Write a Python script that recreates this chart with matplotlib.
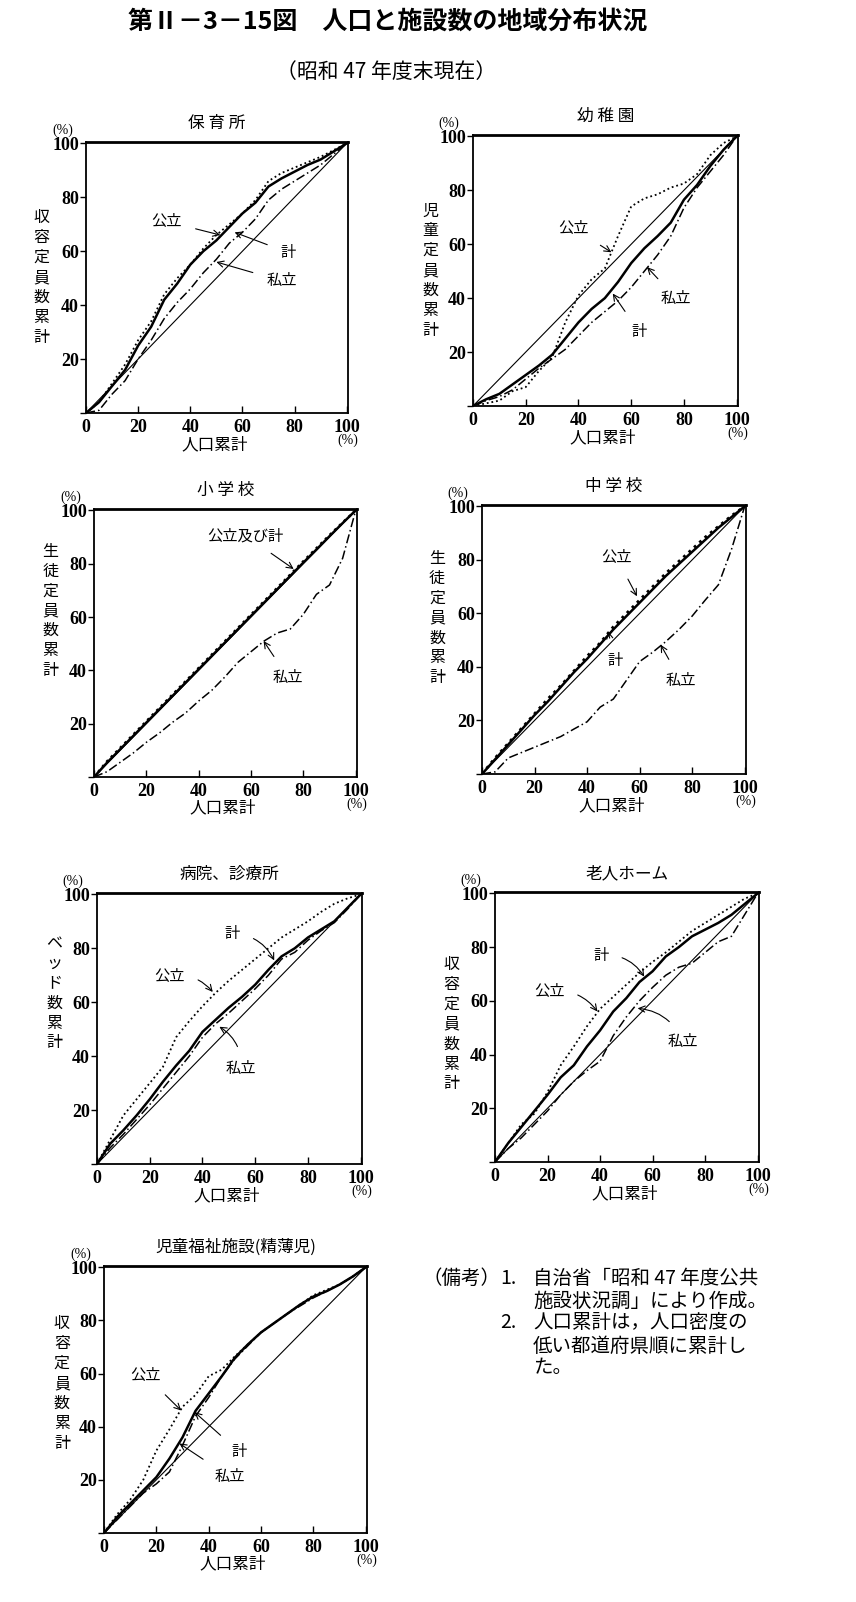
import matplotlib.pyplot as plt

plt.rcParams['font.family'] = ['Noto Sans CJK JP', 'DejaVu Sans']

W, H = 856, 1602

# cumulative population share (%)
pct = [0, 5, 10, 15, 20, 25, 30, 35, 40, 45, 50, 55, 60, 65, 70, 75, 80, 85, 90, 95, 100]
tick_vals = [0, 20, 40, 60, 80, 100]

# 保育所
hoiku_kou = [0, 4, 11, 18, 27, 34, 44, 50, 55, 61, 66, 70, 74, 79, 86, 89, 91, 93, 95, 97.5, 100]
hoiku_kei = [0, 4, 10, 16, 25, 32, 42, 48, 55, 60, 64, 69, 74, 78, 84, 87, 89.5, 92, 94, 97, 100]
hoiku_shi = [0, 1, 7, 12, 20, 27, 35, 41, 46, 52, 57, 63, 67, 72, 79, 83, 86, 89, 92, 96, 100]

# 幼稚園
youchi_kou = [0, 1, 2, 5.5, 7, 13, 18, 31, 41, 47, 51, 63, 74, 77, 78.5, 81, 82.5, 86, 93, 97.5, 100]
youchi_kei = [0, 2.5, 4.5, 8, 11.5, 15, 19, 25, 31, 36, 40, 46, 53, 58.5, 63, 68, 76.5, 82, 89, 95, 100]
youchi_shi = [0, 2, 3.5, 6, 10, 14, 17.5, 21, 26, 31, 35, 39, 44, 50, 56, 63, 73.5, 81, 87, 93, 100]

# 小学校
shou_kou = [0, 5.9, 10.9, 15.9, 20.9, 25.9, 30.9, 35.9, 40.9, 45.9, 50.9, 55.9, 60.9, 65.9, 70.9, 75.9, 80.9, 85.8, 90.7, 95.4, 100]
shou_kei = [0, 5.4, 10.4, 15.4, 20.4, 25.4, 30.4, 35.4, 40.4, 45.4, 50.4, 55.4, 60.4, 65.4, 70.4, 75.4, 80.4, 85.3, 90.3, 95.2, 100]
shou_shi = [0, 2, 5.5, 9, 13, 16.5, 20.5, 24, 28.5, 32.5, 37.5, 43, 47, 51, 54, 55.5, 61, 68.5, 72, 82, 100]

# 中学校
chuu_kou = [0, 6, 11.5, 17, 22.5, 28, 33, 38.5, 44, 49, 55, 60, 65, 70, 75, 79.5, 84, 88.5, 92.5, 96.5, 100]
chuu_kei = [0, 5.5, 11, 16.5, 22, 27, 32.5, 38, 43, 48.5, 54, 59, 64, 69, 74, 78.5, 83, 87.5, 92, 96, 100]
chuu_shi = [0, 0.8, 6, 8, 10, 12, 14, 16.8, 19.5, 25, 28, 35, 42, 45.5, 49.5, 54, 59, 65, 70.7, 84, 100]

# 病院、診療所
byouin_kou = [0, 9, 18, 24, 30, 36, 47, 53, 58.5, 63.5, 68, 72, 76, 80, 84, 87, 90, 93.5, 96.5, 98.5, 100]
byouin_kei = [0, 7.5, 12.5, 18, 24, 30.5, 36.5, 42, 49, 53.5, 58, 62, 66.5, 72, 77, 80, 84, 87, 90, 95, 100]
byouin_shi = [0, 6, 11, 16.5, 22, 28, 34, 40, 47, 52, 56, 60.5, 65, 70, 76, 78.5, 83, 86.5, 89.5, 94.5, 100]

# 老人ホーム
roujin_kou = [0, 7, 14, 18, 26, 36, 43, 50.5, 57, 61.5, 66, 70.5, 74.5, 78, 82, 86, 89, 92, 95, 98, 100]
roujin_kei = [0, 7, 13, 19, 25, 31.5, 36, 43, 49, 56, 61, 67, 71, 76.5, 80, 84, 86.5, 89, 92, 96, 100]
roujin_shi = [0, 5, 9, 14, 19, 25, 30, 34, 37.5, 47, 54, 60, 65, 69.5, 72.5, 74, 78, 82, 84, 92, 100]

# 児童福祉施設(精薄児)
jidou_kou = [0, 7, 12.5, 20, 31, 39, 47.5, 52, 59, 61.5, 66.5, 71, 75.5, 79, 82.5, 86, 89.5, 91.5, 93.5, 96.5, 100]
jidou_kei = [0, 6, 11, 16, 21, 28, 36, 46, 52.5, 59, 66, 71, 75.5, 79, 82.5, 86, 89, 91, 93.5, 96.5, 100]
jidou_shi = [0, 5, 10, 15, 18.5, 23, 33, 44, 51, 59, 65.5, 70.5, 75.5, 79, 82.5, 85.5, 88.5, 91, 93.5, 96.5, 100]

# layout: box = (left, top, right, bottom) in pixels; ann = (text, text xy, arrow tip xy, curvature)
panels = [
    dict(title='保 育 所', ylabel='収容定員数累計', box=(86, 142, 348, 413),
         kou=hoiku_kou, kei=hoiku_kei, shi=hoiku_shi, ylab_pos=(-0.17, 0.5),
         ann=[('公立', (31, 71), (51.5, 66), 0), ('計', (77.5, 59.5), (57, 67), 0),
              ('私立', (75, 49), (50, 56), 0)]),
    dict(title='幼 稚 園', ylabel='児童定員数累計', box=(473, 135, 738, 406),
         kou=youchi_kou, kei=youchi_kei, shi=youchi_shi, ylab_pos=(-0.16, 0.5),
         ann=[('公立', (38, 66), (52.5, 57), 0), ('私立', (77, 40), (66, 51.5), 0),
              ('計', (63, 27.5), (53, 41.7), 0)]),
    dict(title='小 学 校', ylabel='生徒定員数累計', box=(94, 509, 357, 777),
         kou=shou_kou, kei=shou_kei, shi=shou_shi, ylab_pos=(-0.165, 0.62), kou_lw=1.8,
         ann=[('公立及び計', (58, 90.5), (76.3, 78), 0), ('私立', (74, 37.5), (64.8, 51), 0)]),
    dict(title='中 学 校', ylabel='生徒定員数累計', box=(482, 505, 746, 774),
         kou=chuu_kou, kei=chuu_kei, shi=chuu_shi, ylab_pos=(-0.17, 0.58), kou_lw=2.0,
         ann=[('公立', (51.3, 80.7), (59, 66.4), 0), ('計', (50.6, 42.5), (48, 53.3), 0),
              ('私立', (75.6, 35), (68, 48.3), 0)]),
    dict(title='病院、診療所', ylabel='ベッド数累計', box=(97, 893, 362, 1164),
         kou=byouin_kou, kei=byouin_kei, shi=byouin_shi, ylab_pos=(-0.16, 0.63),
         ann=[('計', (51.4, 85.4), (67.2, 75.5), -0.3), ('公立', (27.5, 69.4), (43.9, 63.8), -0.3),
              ('私立', (54.6, 35.4), (46.4, 50.9), 0.3)]),
    dict(title='老人ホーム', ylabel='収容定員数累計', box=(495, 892, 759, 1162),
         kou=roujin_kou, kei=roujin_kei, shi=roujin_shi, ylab_pos=(-0.165, 0.51),
         ann=[('計', (40.3, 77), (56.8, 69), -0.3), ('公立', (20.6, 63.4), (39, 56), -0.3),
              ('私立', (71.4, 44.9), (54.3, 57.2), 0.3)]),
    dict(title='児童福祉施設(精薄児)', ylabel='収容定員数累計', box=(104, 1266, 367, 1533),
         kou=jidou_kou, kei=jidou_kei, shi=jidou_shi, ylab_pos=(-0.16, 0.56),
         ann=[('公立', (16, 59.2), (29.5, 46.1), 0), ('計', (51.7, 30.5), (34.6, 45.5), 0),
              ('私立', (47.9, 21.2), (28.8, 33.7), 0)]),
]

num_font = dict(family=['Liberation Serif'], fontweight='bold', fontsize=13)

fig = plt.figure(figsize=(W / 100, H / 100), dpi=100)


def draw_panel(p):
    l, t, r, b = p['box']
    ax = fig.add_axes([l / W, 1 - b / H, (r - l) / W, (b - t) / H])
    ax.plot([0, 100], [0, 100], color='black', lw=0.8)
    ax.plot(pct, p['kou'], color='black', lw=p.get('kou_lw', 1.3), ls=(0, (1, 1.6)))
    ax.plot(pct, p['kei'], color='black', lw=1.8)
    ax.plot(pct, p['shi'], color='black', lw=1.1, ls=(0, (6, 2, 1, 2)))
    ax.set_xlim(0, 100.5)
    ax.set_ylim(0, 100.5)
    for s in ax.spines.values():
        s.set_linewidth(1.3)
    ax.spines['top'].set_linewidth(2.0)
    ax.set_xticks(tick_vals)
    ax.set_xticklabels([str(v) for v in tick_vals], **num_font)
    ax.set_yticks(tick_vals)
    ax.set_yticklabels([''] + [str(v) for v in tick_vals[1:]], **num_font)
    ax.tick_params(axis='x', direction='in', length=5, width=1, pad=4)
    ax.tick_params(axis='y', direction='out', length=4, width=1, pad=1)

    ax.set_title(p['title'], fontsize=12, pad=10)
    ax.text(p['ylab_pos'][0], p['ylab_pos'][1], '\n'.join(p['ylabel']), transform=ax.transAxes,
            ha='center', va='center', fontsize=11.5, linespacing=1.22)
    ax.text(-0.09, 1.02, '(%)', transform=ax.transAxes, ha='center', va='bottom',
            family=['Liberation Serif'], fontsize=10)
    ax.text(1.0, -0.075, '(%)', transform=ax.transAxes, ha='center', va='top',
            family=['Liberation Serif'], fontsize=10)
    ax.text(0.49, -0.085, '人口累計', transform=ax.transAxes, ha='center', va='top', fontsize=12)

    for text, txy, tip, rad in p['ann']:
        ax.annotate(text, xy=tip, xytext=txy, ha='center', va='center', fontsize=11,
                    arrowprops=dict(arrowstyle='->', lw=0.8, color='black', shrinkA=8, shrinkB=0,
                                    connectionstyle=f'arc3,rad={rad}'))


for p in panels:
    draw_panel(p)

fig.text(388 / W, 1 - 22 / H, '第Ⅱ－3－15図　人口と施設数の地域分布状況', ha='center', va='center',
         fontsize=18, fontweight='bold')
fig.text(386 / W, 1 - 72 / H, '（昭和 47 年度末現在）', ha='center', va='center', fontsize=15)

notes = [
    (422, 1278, '（備考）'),
    (500, 1278, '1.'),
    (533, 1278, '自治省「昭和 47 年度公共'),
    (533, 1301, '施設状況調」により作成。'),
    (500, 1323, '2.'),
    (533, 1323, '人口累計は，人口密度の'),
    (533, 1346, '低い都道府県順に累計し'),
    (533, 1368, 'た。'),
]
for x, y, s in notes:
    fig.text(x / W, 1 - y / H, s, ha='left', va='center', fontsize=14)

fig.savefig('out.png', dpi=100, facecolor='white')
